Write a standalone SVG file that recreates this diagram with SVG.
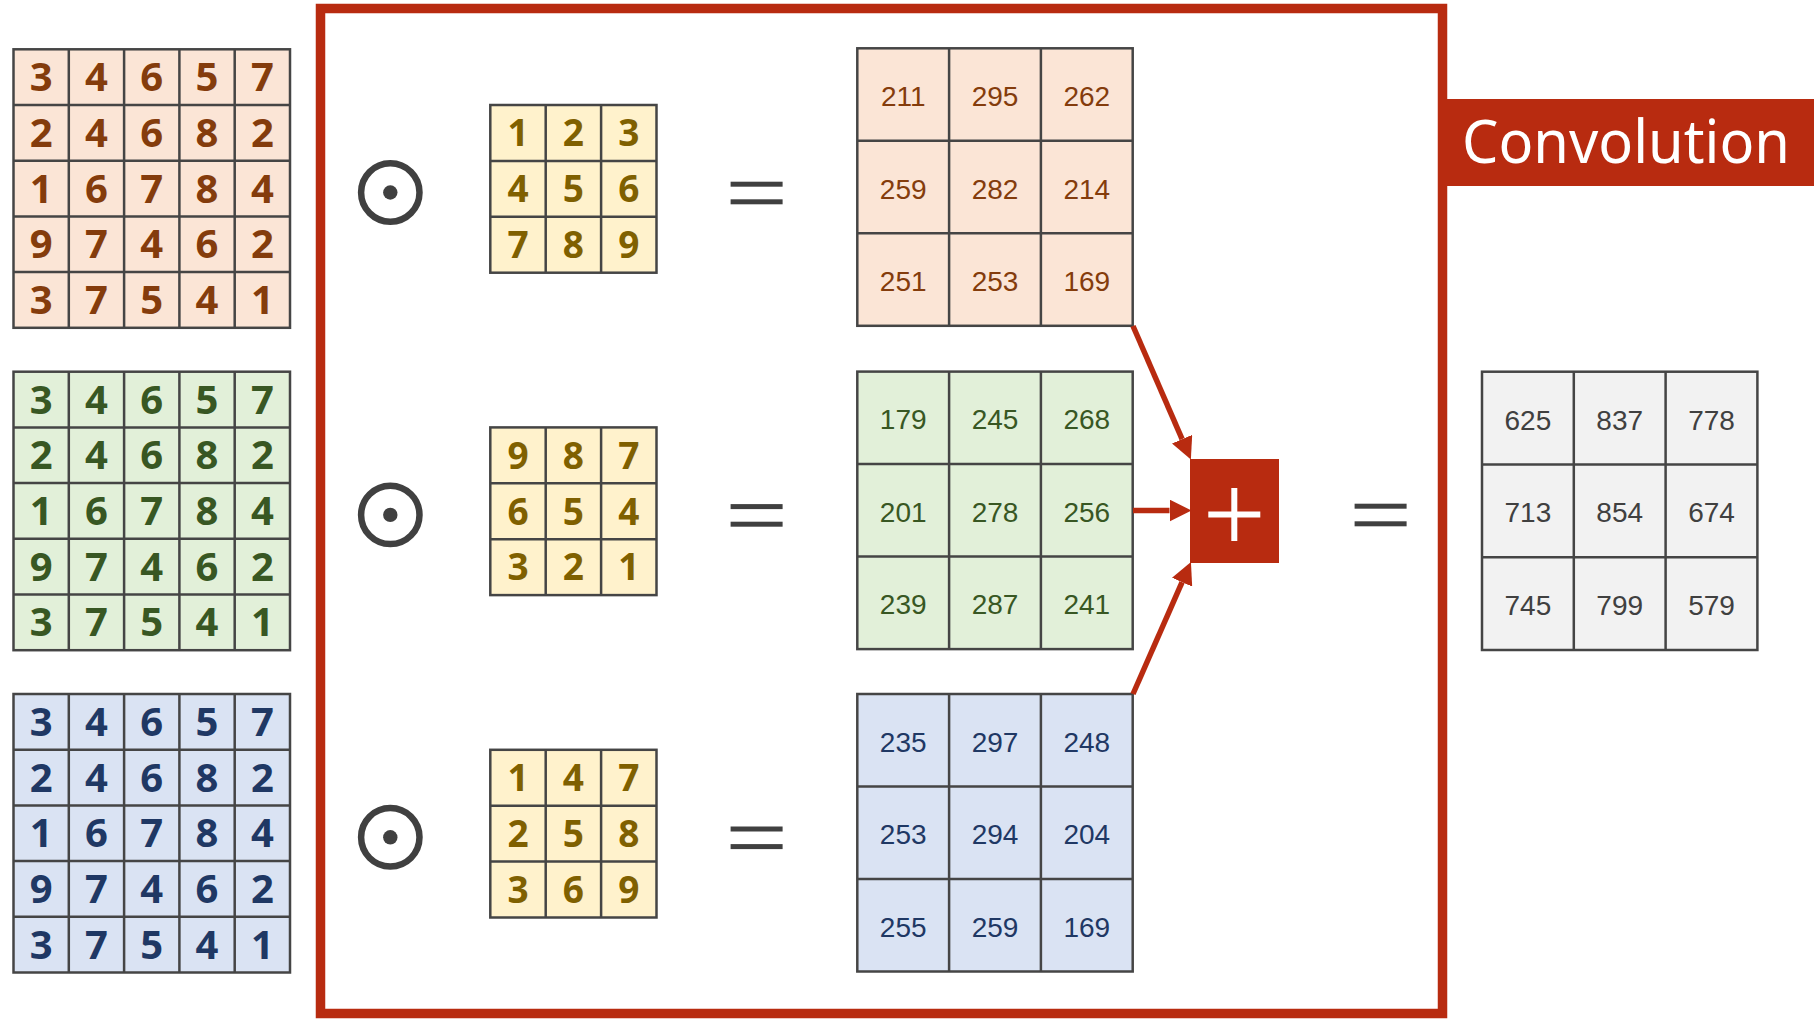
<svg xmlns="http://www.w3.org/2000/svg" width="1819" height="1022" viewBox="0 0 1819 1022">
<style>
.grid{stroke:#454545;stroke-width:2.5}
.gl{fill:none;stroke:#454545;stroke-width:2.5}
.o{fill:#FBE5D6}.g{fill:#E2F0D9}.b{fill:#DAE3F3}.k{fill:#FFF2CC}.w{fill:#F2F2F2}
.in{font-family:"Noto Sans","Open Sans",sans-serif;font-weight:700;font-size:40px;text-anchor:middle}
.kn{font-family:"Noto Sans","Open Sans",sans-serif;font-weight:700;font-size:37px;text-anchor:middle;fill:#7F6000}
.on{font-family:"Liberation Sans",Arial,sans-serif;font-size:28px;text-anchor:middle}
.to{fill:#843C0C}.tg{fill:#385723}.tb{fill:#1F3864}.tw{fill:#404040}
.eq{fill:#404040}
.red{fill:#B82B10}
.conn{stroke:#B82B10;stroke-width:5.5;fill:none}
</style>
<defs>
<marker id="ah" markerUnits="userSpaceOnUse" markerWidth="22" markerHeight="22" refX="0" refY="10.5" orient="auto" viewBox="0 0 21 21">
<path d="M0,0 L21,10.5 L0,21 z" fill="#B82B10"/>
</marker>
<g id="odot">
<circle cx="0" cy="0" r="29.2" fill="none" stroke="#404040" stroke-width="6.5"/>
<circle cx="0" cy="0" r="7.2" fill="#404040"/>
</g>
<g id="eqs">
<rect x="0" y="0" width="52" height="5" class="eq"/>
<rect x="0" y="17.6" width="52" height="5" class="eq"/>
</g>
<path id="g5" d="M55.3,0V278.5M110.6,0V278.5M165.9,0V278.5M221.2,0V278.5M0,55.7H276.5M0,111.4H276.5M0,167.1H276.5M0,222.8H276.5"/>
<path id="g3k" d="M55.4,0V167.7M110.8,0V167.7M0,55.9H166.2M0,111.8H166.2"/>
<path id="g3o" d="M91.8,0V277.5M183.6,0V277.5M0,92.5H275.4M0,185H275.4"/>
</defs>

<!-- frame -->
<g id="frame">
<rect x="320.5" y="8.5" width="1122" height="1005" fill="none" stroke="#B82B10" stroke-width="9.5"/>
</g>
<g id="label">
<rect x="1447" y="99" width="367" height="87" class="red"/>
<text x="1626" y="163.3" font-family="'Noto Sans','Open Sans',sans-serif" font-size="60" fill="#FFFFFF" text-anchor="middle" textLength="328" lengthAdjust="spacingAndGlyphs">Convolution</text>
</g>

<!-- input grids -->
<g id="input1" transform="translate(13.5,49.3)">
<rect x="0" y="0" width="276.5" height="278.5" class="o grid"/>
<use href="#g5" class="gl"/>
<g class="in to">
<text x="27.65" y="41.85">3</text><text x="82.95" y="41.85">4</text><text x="138.25" y="41.85">6</text><text x="193.55" y="41.85">5</text><text x="248.85" y="41.85">7</text>
<text x="27.65" y="97.55">2</text><text x="82.95" y="97.55">4</text><text x="138.25" y="97.55">6</text><text x="193.55" y="97.55">8</text><text x="248.85" y="97.55">2</text>
<text x="27.65" y="153.25">1</text><text x="82.95" y="153.25">6</text><text x="138.25" y="153.25">7</text><text x="193.55" y="153.25">8</text><text x="248.85" y="153.25">4</text>
<text x="27.65" y="208.95">9</text><text x="82.95" y="208.95">7</text><text x="138.25" y="208.95">4</text><text x="193.55" y="208.95">6</text><text x="248.85" y="208.95">2</text>
<text x="27.65" y="264.65">3</text><text x="82.95" y="264.65">7</text><text x="138.25" y="264.65">5</text><text x="193.55" y="264.65">4</text><text x="248.85" y="264.65">1</text>
</g>
</g>
<g id="input2" transform="translate(13.5,371.7)">
<rect x="0" y="0" width="276.5" height="278.5" class="g grid"/>
<use href="#g5" class="gl"/>
<g class="in tg">
<text x="27.65" y="41.85">3</text><text x="82.95" y="41.85">4</text><text x="138.25" y="41.85">6</text><text x="193.55" y="41.85">5</text><text x="248.85" y="41.85">7</text>
<text x="27.65" y="97.55">2</text><text x="82.95" y="97.55">4</text><text x="138.25" y="97.55">6</text><text x="193.55" y="97.55">8</text><text x="248.85" y="97.55">2</text>
<text x="27.65" y="153.25">1</text><text x="82.95" y="153.25">6</text><text x="138.25" y="153.25">7</text><text x="193.55" y="153.25">8</text><text x="248.85" y="153.25">4</text>
<text x="27.65" y="208.95">9</text><text x="82.95" y="208.95">7</text><text x="138.25" y="208.95">4</text><text x="193.55" y="208.95">6</text><text x="248.85" y="208.95">2</text>
<text x="27.65" y="264.65">3</text><text x="82.95" y="264.65">7</text><text x="138.25" y="264.65">5</text><text x="193.55" y="264.65">4</text><text x="248.85" y="264.65">1</text>
</g>
</g>
<g id="input3" transform="translate(13.5,694)">
<rect x="0" y="0" width="276.5" height="278.5" class="b grid"/>
<use href="#g5" class="gl"/>
<g class="in tb">
<text x="27.65" y="41.85">3</text><text x="82.95" y="41.85">4</text><text x="138.25" y="41.85">6</text><text x="193.55" y="41.85">5</text><text x="248.85" y="41.85">7</text>
<text x="27.65" y="97.55">2</text><text x="82.95" y="97.55">4</text><text x="138.25" y="97.55">6</text><text x="193.55" y="97.55">8</text><text x="248.85" y="97.55">2</text>
<text x="27.65" y="153.25">1</text><text x="82.95" y="153.25">6</text><text x="138.25" y="153.25">7</text><text x="193.55" y="153.25">8</text><text x="248.85" y="153.25">4</text>
<text x="27.65" y="208.95">9</text><text x="82.95" y="208.95">7</text><text x="138.25" y="208.95">4</text><text x="193.55" y="208.95">6</text><text x="248.85" y="208.95">2</text>
<text x="27.65" y="264.65">3</text><text x="82.95" y="264.65">7</text><text x="138.25" y="264.65">5</text><text x="193.55" y="264.65">4</text><text x="248.85" y="264.65">1</text>
</g>
</g>

<!-- operators -->
<g id="op1"><use href="#odot" x="390.3" y="192.5"/></g>
<g id="op2"><use href="#odot" x="390.3" y="514.9"/></g>
<g id="op3"><use href="#odot" x="390.3" y="837.3"/></g>

<!-- kernels -->
<g id="kernel1" transform="translate(490.3,105)">
<rect x="0" y="0" width="166.2" height="167.7" class="k grid"/>
<use href="#g3k" class="gl"/>
<g class="kn">
<text x="27.7" y="41.25">1</text><text x="83.1" y="41.25">2</text><text x="138.5" y="41.25">3</text>
<text x="27.7" y="97.15">4</text><text x="83.1" y="97.15">5</text><text x="138.5" y="97.15">6</text>
<text x="27.7" y="153.05">7</text><text x="83.1" y="153.05">8</text><text x="138.5" y="153.05">9</text>
</g>
</g>
<g id="kernel2" transform="translate(490.3,427.4)">
<rect x="0" y="0" width="166.2" height="167.7" class="k grid"/>
<use href="#g3k" class="gl"/>
<g class="kn">
<text x="27.7" y="41.25">9</text><text x="83.1" y="41.25">8</text><text x="138.5" y="41.25">7</text>
<text x="27.7" y="97.15">6</text><text x="83.1" y="97.15">5</text><text x="138.5" y="97.15">4</text>
<text x="27.7" y="153.05">3</text><text x="83.1" y="153.05">2</text><text x="138.5" y="153.05">1</text>
</g>
</g>
<g id="kernel3" transform="translate(490.3,749.8)">
<rect x="0" y="0" width="166.2" height="167.7" class="k grid"/>
<use href="#g3k" class="gl"/>
<g class="kn">
<text x="27.7" y="41.25">1</text><text x="83.1" y="41.25">4</text><text x="138.5" y="41.25">7</text>
<text x="27.7" y="97.15">2</text><text x="83.1" y="97.15">5</text><text x="138.5" y="97.15">8</text>
<text x="27.7" y="153.05">3</text><text x="83.1" y="153.05">6</text><text x="138.5" y="153.05">9</text>
</g>
</g>

<!-- equals -->
<g id="eq1"><use href="#eqs" x="730.6" y="181.7"/></g>
<g id="eq2"><use href="#eqs" x="730.6" y="504.1"/></g>
<g id="eq3"><use href="#eqs" x="730.6" y="826.5"/></g>
<g id="eq4"><use href="#eqs" x="1354.6" y="503.7"/></g>

<!-- outputs -->
<g id="out1" transform="translate(857.3,48.3)">
<rect x="0" y="0" width="275.4" height="277.5" class="o grid"/>
<use href="#g3o" class="gl"/>
<g class="on to">
<text x="45.9" y="57.75">211</text><text x="137.7" y="57.75">295</text><text x="229.5" y="57.75">262</text>
<text x="45.9" y="150.25">259</text><text x="137.7" y="150.25">282</text><text x="229.5" y="150.25">214</text>
<text x="45.9" y="242.75">251</text><text x="137.7" y="242.75">253</text><text x="229.5" y="242.75">169</text>
</g>
</g>
<g id="out2" transform="translate(857.3,371.6)">
<rect x="0" y="0" width="275.4" height="277.5" class="g grid"/>
<use href="#g3o" class="gl"/>
<g class="on tg">
<text x="45.9" y="57.75">179</text><text x="137.7" y="57.75">245</text><text x="229.5" y="57.75">268</text>
<text x="45.9" y="150.25">201</text><text x="137.7" y="150.25">278</text><text x="229.5" y="150.25">256</text>
<text x="45.9" y="242.75">239</text><text x="137.7" y="242.75">287</text><text x="229.5" y="242.75">241</text>
</g>
</g>
<g id="out3" transform="translate(857.3,694)">
<rect x="0" y="0" width="275.4" height="277.5" class="b grid"/>
<use href="#g3o" class="gl"/>
<g class="on tb">
<text x="45.9" y="57.75">235</text><text x="137.7" y="57.75">297</text><text x="229.5" y="57.75">248</text>
<text x="45.9" y="150.25">253</text><text x="137.7" y="150.25">294</text><text x="229.5" y="150.25">204</text>
<text x="45.9" y="242.75">255</text><text x="137.7" y="242.75">259</text><text x="229.5" y="242.75">169</text>
</g>
</g>

<!-- plus -->
<g id="plus">
<rect x="1190" y="459" width="89" height="104" class="red"/>
<path d="M1208.3,514.5H1260.3M1234.3,488V541" stroke="#FFFFFF" stroke-width="6"/>
</g>

<!-- result -->
<g id="result" transform="translate(1482,371.7)">
<rect x="0" y="0" width="275.4" height="278.3" class="w grid"/>
<path d="M91.8,0V278.3M183.6,0V278.3M0,92.8H275.4M0,185.5H275.4" class="gl"/>
<g class="on tw">
<text x="45.9" y="57.9">625</text><text x="137.7" y="57.9">837</text><text x="229.5" y="57.9">778</text>
<text x="45.9" y="150.7">713</text><text x="137.7" y="150.7">854</text><text x="229.5" y="150.7">674</text>
<text x="45.9" y="243.5">745</text><text x="137.7" y="243.5">799</text><text x="229.5" y="243.5">579</text>
</g>
</g>

<!-- connectors -->
<g id="connectors">
<line x1="1133" y1="326" x2="1182.1" y2="439.2" class="conn" marker-end="url(#ah)"/>
<line x1="1133" y1="510.5" x2="1169.5" y2="510.5" class="conn" marker-end="url(#ah)"/>
<line x1="1133" y1="694" x2="1182.1" y2="582.2" class="conn" marker-end="url(#ah)"/>
</g>
</svg>
